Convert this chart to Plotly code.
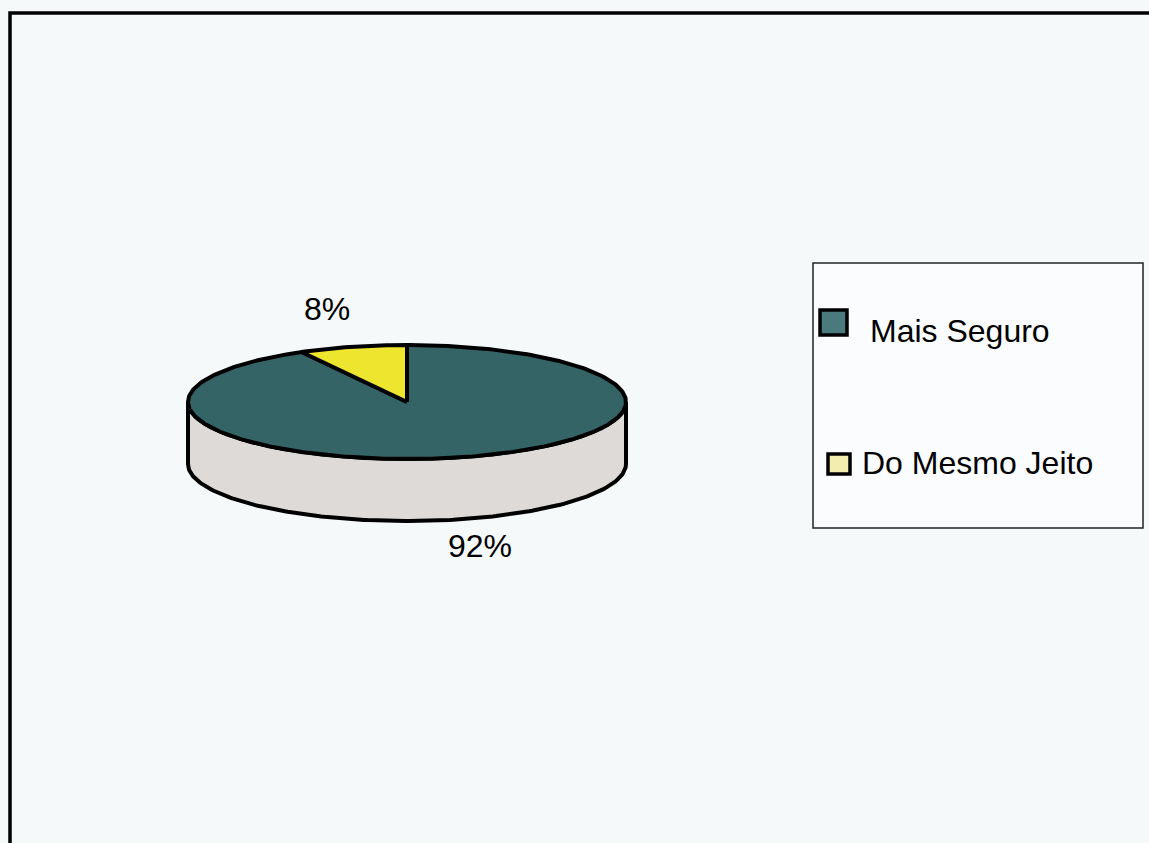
import numpy as np
import plotly.graph_objects as go

# ---- data ----
categories = ["Mais Seguro", "Do Mesmo Jeito"]
values = [92, 8]
labels_pct = ["92%", "8%"]
top_colors = ["#356466", "#eee62e"]
legend_colors = ["#4a7a7c", "#f3edb0"]
side_color = "#dddad8"

# ---- geometry (pixel space) ----
W, H = 1149, 843
cx, cy, rx, ry, depth = 407, 402, 219, 57, 62

def pt(phi_deg, dy=0.0):
    p = np.radians(phi_deg)
    return cx + rx * np.sin(p), cy - ry * np.cos(p) + dy

total = float(sum(values))
frac_yellow = values[1] / total * 360.0

fig = go.Figure()
LW = 4

# side (front half of the cylinder wall)
ang_front = np.linspace(90, 270, 200)
xs_top, ys_top = pt(ang_front)
xs_bot, ys_bot = pt(ang_front[::-1], depth)
fig.add_trace(go.Scatter(
    x=np.concatenate([xs_top, xs_bot, xs_top[:1]]),
    y=np.concatenate([ys_top, ys_bot, ys_top[:1]]),
    fill="toself", fillcolor=side_color, mode="lines",
    line=dict(color="black", width=LW), hoverinfo="skip", showlegend=False))

# top slices
a0 = np.linspace(0, 360 - frac_yellow, 400)
x0, y0 = pt(a0)
fig.add_trace(go.Scatter(
    x=np.concatenate([[cx], x0, [cx]]), y=np.concatenate([[cy], y0, [cy]]),
    fill="toself", fillcolor=top_colors[0], mode="lines",
    line=dict(color="black", width=LW), name=categories[0],
    hoverinfo="name", showlegend=False))
a1 = np.linspace(-frac_yellow, 0, 60)
x1, y1 = pt(a1)
fig.add_trace(go.Scatter(
    x=np.concatenate([[cx], x1, [cx]]), y=np.concatenate([[cy], y1, [cy]]),
    fill="toself", fillcolor=top_colors[1], mode="lines",
    line=dict(color="black", width=LW), name=categories[1],
    hoverinfo="name", showlegend=False))

font = dict(family="Arial, Liberation Sans, sans-serif", size=32, color="black")
annotations = [
    dict(x=480, y=546, text=labels_pct[0], showarrow=False, font=font,
         xanchor="center", yanchor="middle"),
    dict(x=327, y=309, text=labels_pct[1], showarrow=False, font=font,
         xanchor="center", yanchor="middle"),
    dict(x=868, y=331, text=categories[0], showarrow=False, font=font,
         xanchor="left", yanchor="middle"),
    dict(x=860, y=463, text=categories[1], showarrow=False, font=font,
         xanchor="left", yanchor="middle"),
]

shapes = [
    dict(type="rect", x0=10, y0=13, x1=1160, y1=860, xref="x", yref="y",
         line=dict(color="black", width=3.5), fillcolor="rgba(0,0,0,0)", layer="below"),
    dict(type="rect", x0=813, y0=263, x1=1143, y1=528, xref="x", yref="y",
         line=dict(color="#222", width=1.5), fillcolor="#fbfcfd", layer="below"),
    dict(type="rect", x0=820, y0=310, x1=847, y1=335, xref="x", yref="y",
         line=dict(color="black", width=3.5), fillcolor=legend_colors[0]),
    dict(type="rect", x0=828, y0=454, x1=850, y1=474, xref="x", yref="y",
         line=dict(color="black", width=3.5), fillcolor=legend_colors[1]),
]

fig.update_layout(
    width=W, height=H,
    margin=dict(l=0, r=0, t=0, b=0),
    paper_bgcolor="#f6f9fa", plot_bgcolor="#f6f9fa",
    xaxis=dict(range=[0, W], visible=False, fixedrange=True),
    yaxis=dict(range=[H, 0], visible=False, fixedrange=True),
    annotations=annotations, shapes=shapes,
    showlegend=False,
)

fig.write_html("out.html")
